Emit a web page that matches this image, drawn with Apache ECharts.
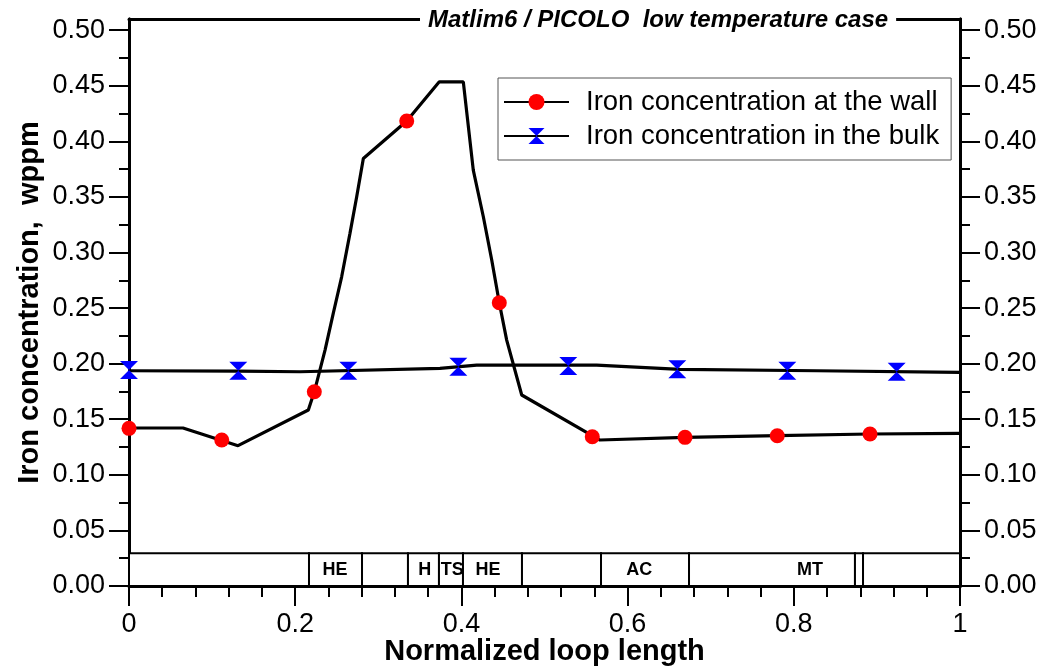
<!DOCTYPE html>
<html><head><meta charset="utf-8">
<script src="https://cdn.jsdelivr.net/npm/echarts@6/dist/echarts.min.js"></script>
<style>html,body{margin:0;padding:0;background:#fff}#c{width:1046px;height:669px}</style>
</head><body><div id="c"></div>
<script>
// ---- data ----
const wallLine = [
  [0, 0.1421], [0.065, 0.1421], [0.1312, 0.1262], [0.2158, 0.1583], [0.223, 0.1747],
  [0.2359, 0.2122], [0.2458, 0.2452], [0.2559, 0.2781], [0.2659, 0.3172], [0.274, 0.3501],
  [0.282, 0.3846], [0.3342, 0.4182], [0.3734, 0.4535], [0.4023, 0.4535], [0.4143, 0.3741],
  [0.4264, 0.3321], [0.4365, 0.2932], [0.4456, 0.2548], [0.4545, 0.2212], [0.4726, 0.1718],
  [0.5668, 0.1313], [0.6691, 0.1337], [0.7801, 0.1352], [0.8917, 0.1367], [1.0, 0.1373]
];
const wallMarkers = [
  [0, 0.1418], [0.1116, 0.1313], [0.223, 0.1747], [0.3342, 0.4182], [0.4456, 0.2548],
  [0.5575, 0.1343], [0.6691, 0.1337], [0.7801, 0.1352], [0.8917, 0.1367]
];
const bulkLine = [
  [0, 0.1936], [0.1312, 0.1933], [0.2058, 0.1927], [0.3742, 0.1958], [0.4184, 0.1987],
  [0.5628, 0.1987], [0.6631, 0.1949], [0.8276, 0.1936], [1.0, 0.1922]
];
const bulkMarkers = [
  [0, 0.1942], [0.1315, 0.1936], [0.2639, 0.1936], [0.3963, 0.1972], [0.5286, 0.1978],
  [0.6598, 0.1949], [0.7922, 0.1936], [0.9238, 0.1927]
];
const yMajorTicks = [0, 0.05, 0.10, 0.15, 0.20, 0.25, 0.30, 0.35, 0.40, 0.45, 0.50];
const yMinorTicks = [0.025, 0.075, 0.125, 0.175, 0.225, 0.275, 0.325, 0.375, 0.425, 0.475];
const bandEdges = [0, 0.2166, 0.2804, 0.3357, 0.373, 0.4019, 0.4729, 0.568, 0.6739, 0.8736, 0.8833, 1];
const bandLabels = ['HE', 'H', 'TS', 'HE', 'AC', 'MT'];
const bandLabelX = [0.248, 0.356, 0.389, 0.432, 0.614, 0.8195];
const bandTop = 0.0295;

const FONT = 'Liberation Sans, Arial, sans-serif';
const HOURGLASS = 'path://M0,0 L10,0 L5,5 L10,10 L0,10 L5,5 Z';
const WALL = 'Iron concentration at the wall';
const BULK = 'Iron concentration in the bulk';

const segments = [];
for (let i = 0; i < bandEdges.length - 1; i++) segments.push([bandEdges[i], bandEdges[i + 1]]);
const labelData = bandLabelX.map((x, i) => [x, i]);

function yAxisDef(pos, major) {
  return {
    type: 'value', position: pos, min: 0, max: 0.51,
    splitLine: { show: false },
    axisLine: { show: true, onZero: false, lineStyle: { color: '#000', width: 3 } },
    axisTick: { show: true, inside: false, length: major ? 20 : 10, customValues: major ? yMajorTicks : yMinorTicks,
      lineStyle: { color: '#000', width: 2 } },
    axisLabel: major ? { show: true, customValues: yMajorTicks, margin: 24, color: '#000', fontSize: 27, fontFamily: FONT,
      formatter: v => v.toFixed(2) } : { show: false },
    name: (pos === 'left' && major) ? 'Iron concentration,  wppm' : '',
    nameLocation: 'middle', nameGap: 85, nameMoveOverlap: false,
    nameTextStyle: { fontSize: 29, fontWeight: 'bold', color: '#000', fontFamily: FONT }
  };
}

const chart = echarts.init(document.getElementById('c'), null, { renderer: 'canvas' });
chart.setOption({
  animation: false,
  backgroundColor: '#fff',
  title: {
    text: 'Matlim6 / PICOLO  low temperature case',
    left: 420, top: 6, padding: [2, 8], backgroundColor: '#fff',
    textStyle: { fontSize: 24, fontWeight: 'bold', fontStyle: 'italic', color: '#000', fontFamily: FONT }
  },
  legend: {
    data: [WALL, BULK], orient: 'vertical', left: 498, top: 78,
    padding: [10, 12, 10, 5], itemWidth: 65, itemHeight: 20, itemGap: 6,
    borderColor: '#555', borderWidth: 1, backgroundColor: '#fff',
    textStyle: { fontSize: 27.5, color: '#000', fontFamily: FONT, padding: [0, 0, 0, 12] }
  },
  grid: { left: 129, right: 86, top: 19, bottom: 83, containLabel: false, outerBoundsMode: 'none' },
  xAxis: [{
    type: 'value', position: 'bottom', min: 0, max: 1, interval: 0.2,
    splitLine: { show: false },
    axisLine: { onZero: false, lineStyle: { color: '#000', width: 3 } },
    axisTick: { length: 20, lineStyle: { color: '#000', width: 2 } },
    minorTick: { show: true, splitNumber: 5, length: 11, lineStyle: { color: '#000', width: 2 } },
    axisLabel: { margin: 25, color: '#000', fontSize: 27, fontFamily: FONT },
    name: 'Normalized loop length', nameLocation: 'middle', nameGap: 51, nameMoveOverlap: false,
    nameTextStyle: { fontSize: 29, fontWeight: 'bold', color: '#000', fontFamily: FONT }
  }, {
    type: 'value', position: 'top', min: 0, max: 1,
    splitLine: { show: false },
    axisLine: { show: true, onZero: false, lineStyle: { color: '#000', width: 3 } },
    axisTick: { show: false }, axisLabel: { show: false }
  }],
  yAxis: [yAxisDef('left', true), yAxisDef('left', false), yAxisDef('right', true), yAxisDef('right', false)],
  series: [
    {
      type: 'custom', name: 'band', coordinateSystem: 'cartesian2d', xAxisIndex: 0, yAxisIndex: 0,
      data: segments, encode: { x: [0, 1] }, silent: true, z: 1,
      renderItem: (params, api) => {
        const p0 = api.coord([api.value(0), bandTop]);
        const p1 = api.coord([api.value(1), 0]);
        return { type: 'rect', shape: { x: p0[0], y: p0[1], width: p1[0] - p0[0], height: p1[1] - p0[1] },
          style: { fill: '#fff', stroke: '#000', lineWidth: 2 } };
      }
    },
    {
      type: 'custom', name: 'bandLabels', coordinateSystem: 'cartesian2d', xAxisIndex: 0, yAxisIndex: 0,
      data: labelData, encode: { x: 0 }, silent: true, z: 2,
      renderItem: (params, api) => {
        const p = api.coord([api.value(0), bandTop / 2]);
        return { type: 'text', x: p[0], y: p[1],
          style: { text: bandLabels[api.value(1)], fill: '#000', font: 'bold 18px ' + FONT, align: 'center', verticalAlign: 'middle' } };
      }
    },
    {
      type: 'line', name: WALL, data: wallLine, xAxisIndex: 0, yAxisIndex: 0,
      symbol: 'circle', showSymbol: false, lineStyle: { color: '#000', width: 3.2 },
      itemStyle: { color: '#ff0000' }, z: 3
    },
    {
      type: 'line', name: BULK, data: bulkLine, xAxisIndex: 0, yAxisIndex: 0,
      symbol: HOURGLASS, showSymbol: false, lineStyle: { color: '#000', width: 3.2 },
      itemStyle: { color: '#0000ff' }, z: 3
    },
    {
      type: 'scatter', name: 'wallMarkers', data: wallMarkers, xAxisIndex: 0, yAxisIndex: 0,
      symbol: 'circle', symbolSize: 15, itemStyle: { color: '#ff0000', opacity: 1 }, z: 5
    },
    {
      type: 'scatter', name: 'bulkMarkers', data: bulkMarkers, xAxisIndex: 0, yAxisIndex: 0,
      symbol: HOURGLASS, symbolSize: [18, 18], itemStyle: { color: '#0000ff', opacity: 1 }, z: 5
    }
  ]
});
</script></body></html>
